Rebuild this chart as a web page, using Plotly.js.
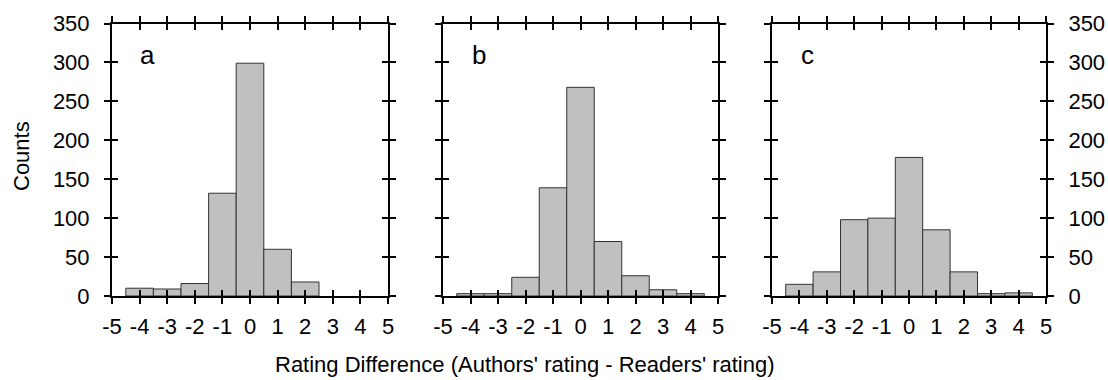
<!DOCTYPE html>
<html>
<head>
<meta charset="utf-8">
<script src="https://cdn.plot.ly/plotly-3.0.1.min.js"></script>
<style>html,body{margin:0;padding:0;background:#fff;}#chart{width:1108px;height:380px;}</style>
</head>
<body>
<div id="chart"></div>
<script>
// ---- data ----
const bins = [-4, -3, -2, -1, 0, 1, 2, 3, 4];
const countsA = [10, 9, 16, 132, 299, 60, 18, 0, 0];
const countsB = [3, 3, 24, 139, 268, 70, 26, 8, 3];
const countsC = [15, 31, 98, 100, 178, 85, 31, 3, 4];
const panelLabels = ['a', 'b', 'c'];
const xTickVals = [-5, -4, -3, -2, -1, 0, 1, 2, 3, 4, 5];
const yTickVals = [0, 50, 100, 150, 200, 250, 300, 350];
const xTitle = "Rating Difference (Authors' rating - Readers' rating)";
const yTitle = "Counts";

// ---- layout geometry ----
const W = 1108, H = 380;
const panelsPx = [[112, 388], [443, 718], [772, 1046]];
const yDom = [1 - 296 / H, 1 - 23.5 / H];
const FONT = 'Liberation Sans, Arial, sans-serif';
const TICKFONT = 22;

const series = [countsA, countsB, countsC];
const traces = [];
const layout = {
  width: W, height: H,
  margin: {l: 0, r: 0, t: 0, b: 0},
  paper_bgcolor: '#fff', plot_bgcolor: 'rgba(0,0,0,0)',
  showlegend: false,
  bargap: 0,
  font: {family: FONT, size: TICKFONT, color: '#000'},
  annotations: [],
  shapes: []
};

series.forEach((vals, i) => {
  const n = i + 1;          // main axes ids 1..3
  const m = i + 4;          // overlay axes ids 4..6 (inside ticks)
  const xs = n === 1 ? 'x' : 'x' + n, ys = n === 1 ? 'y' : 'y' + n;
  const xo = 'x' + m, yo = 'y' + m;
  const xk = n === 1 ? 'xaxis' : 'xaxis' + n, yk = n === 1 ? 'yaxis' : 'yaxis' + n;
  const dom = [panelsPx[i][0] / W, panelsPx[i][1] / W];

  traces.push({
    type: 'bar', x: bins, y: vals, xaxis: xs, yaxis: ys, width: 1,
    marker: {color: '#c0c0c0', line: {color: '#333', width: vals.map(v => v > 0 ? 1 : 0)}},
    hoverinfo: 'x+y'
  });
  // invisible trace so the inside-tick overlay axes get drawn
  traces.push({type: 'scatter', x: [0], y: [0], xaxis: xo, yaxis: yo,
    mode: 'markers', marker: {opacity: 0}, hoverinfo: 'skip'});

  const common = {showgrid: false, zeroline: false, fixedrange: true};
  layout[xk] = Object.assign({}, common, {
    domain: dom, anchor: ys, range: [-5, 5],
    tickmode: 'array', tickvals: xTickVals, ticktext: xTickVals.map(String),
    ticks: 'outside', ticklen: 6, tickwidth: 2, tickcolor: '#000',
    showline: true, linewidth: 2, linecolor: '#000', mirror: 'allticks',
    ticklabelstandoff: 4,
    tickfont: {size: TICKFONT, family: FONT}
  });
  layout[yk] = Object.assign({}, common, {
    domain: yDom, anchor: xs, range: [0, 350],
    tickmode: 'array', tickvals: yTickVals, ticktext: yTickVals.map(String),
    ticks: 'outside', ticklen: 6, tickwidth: 2, tickcolor: '#000',
    showline: true, linewidth: 2, linecolor: '#000', mirror: 'allticks',
    showticklabels: n !== 2, side: n === 3 ? 'right' : 'left',
    ticklabelstandoff: 10,
    tickfont: {size: TICKFONT, family: FONT}
  });
  layout['xaxis' + m] = Object.assign({}, common, {
    domain: dom, anchor: yo, overlaying: xs, range: [-5, 5],
    tickmode: 'array', tickvals: xTickVals, showticklabels: false,
    ticks: 'inside', ticklen: 6, tickwidth: 2, tickcolor: '#000',
    showline: false, mirror: 'allticks'
  });
  layout['yaxis' + m] = Object.assign({}, common, {
    domain: yDom, anchor: xo, overlaying: ys, range: [0, 350],
    tickmode: 'array', tickvals: yTickVals, showticklabels: false,
    ticks: 'inside', ticklen: 6, tickwidth: 2, tickcolor: '#000',
    showline: false, mirror: 'allticks'
  });

  layout.annotations.push({
    text: panelLabels[i], xref: xs, yref: ys, x: -3.7, y: 309,
    showarrow: false, font: {size: 26, family: FONT, color: '#000'},
    xanchor: 'center', yanchor: 'middle'
  });
});

layout.annotations.push({
  text: xTitle, xref: 'paper', yref: 'paper', x: 525 / W, y: 1 - 364 / H,
  showarrow: false, font: {size: 22, family: FONT, color: '#000'},
  xanchor: 'center', yanchor: 'middle'
});
layout.annotations.push({
  text: yTitle, xref: 'paper', yref: 'paper', x: 22 / W, y: 1 - 156 / H,
  textangle: -90, showarrow: false, font: {size: 22, family: FONT, color: '#000'},
  xanchor: 'center', yanchor: 'middle'
});

Plotly.newPlot('chart', traces, layout, {displayModeBar: false, staticPlot: true});
</script>
</body>
</html>
